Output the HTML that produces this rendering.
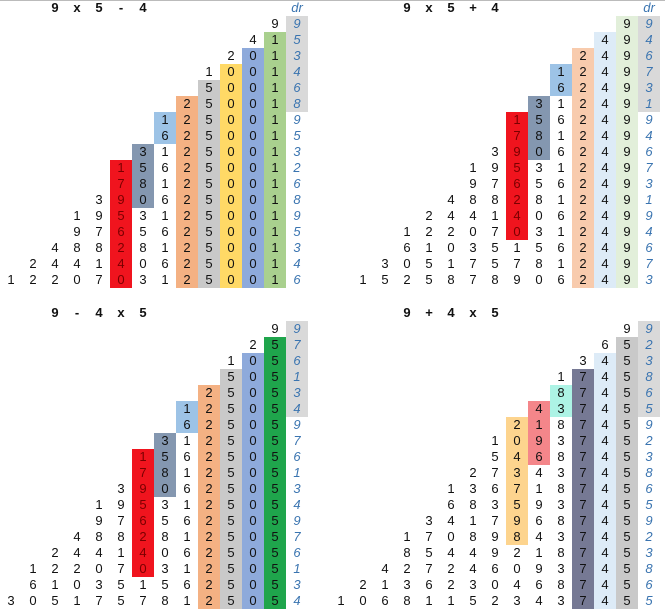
<!DOCTYPE html>
<html><head><meta charset="utf-8">
<style>
body{margin:0;background:#fff;width:665px;height:613px;overflow:hidden;position:relative;font-family:"Liberation Sans",Arial,sans-serif}
.r{position:absolute;height:16px;line-height:16px;white-space:nowrap;font-size:0}
.r span{display:inline-block;width:22px;height:16px;text-align:center;font-size:13px;color:#111;vertical-align:top}
.h span{font-weight:bold}
.d{font-style:italic;color:#3a74b0!important}
.dg{background:#d9d9d9}
.g1{background:#a9d08e}.b1{background:#8eaadb}.y{background:#ffd966}.lg{background:#c9c9c9}
.o{background:#f4b183}.lb{background:#9dc3e6}.sl{background:#8497b0}
.rd{background:#f0141e;color:#7a0000!important}
.lgr{background:#e2efda}.lbb{background:#ddebf7}.pe{background:#f8cbad}
.gg{background:#1fa54c}
.ds{background:#767994}.aq{background:#adf3e5}.pk{background:#f4868a}.ol{background:#fdd48e}
.top{position:absolute;left:0;top:0;width:665px;height:1px;background:#bbb}
</style></head><body>
<div class="top"></div>
<!-- TOP LEFT -->
<div class="r h" style="top:0;left:44px"><span>9</span><span>x</span><span>5</span><span>-</span><span>4</span></div>
<div class="r" style="top:0;left:286px"><span class="d">dr</span></div>
<div class="r" style="top:16px;left:264px"><span>9</span><span class="d dg">9</span></div>
<div class="r" style="top:32px;left:242px"><span>4</span><span class="g1">1</span><span class="d dg">5</span></div>
<div class="r" style="top:48px;left:220px"><span>2</span><span class="b1">0</span><span class="g1">1</span><span class="d dg">3</span></div>
<div class="r" style="top:64px;left:198px"><span>1</span><span class="y">0</span><span class="b1">0</span><span class="g1">1</span><span class="d dg">4</span></div>
<div class="r" style="top:80px;left:198px"><span class="lg">5</span><span class="y">0</span><span class="b1">0</span><span class="g1">1</span><span class="d dg">6</span></div>
<div class="r" style="top:96px;left:176px"><span class="o">2</span><span class="lg">5</span><span class="y">0</span><span class="b1">0</span><span class="g1">1</span><span class="d dg">8</span></div>
<div class="r" style="top:112px;left:154px"><span class="lb">1</span><span class="o">2</span><span class="lg">5</span><span class="y">0</span><span class="b1">0</span><span class="g1">1</span><span class="d">9</span></div>
<div class="r" style="top:128px;left:154px"><span class="lb">6</span><span class="o">2</span><span class="lg">5</span><span class="y">0</span><span class="b1">0</span><span class="g1">1</span><span class="d">5</span></div>
<div class="r" style="top:144px;left:132px"><span class="sl">3</span><span>1</span><span class="o">2</span><span class="lg">5</span><span class="y">0</span><span class="b1">0</span><span class="g1">1</span><span class="d">3</span></div>
<div class="r" style="top:160px;left:110px"><span class="rd">1</span><span class="sl">5</span><span>6</span><span class="o">2</span><span class="lg">5</span><span class="y">0</span><span class="b1">0</span><span class="g1">1</span><span class="d">2</span></div>
<div class="r" style="top:176px;left:110px"><span class="rd">7</span><span class="sl">8</span><span>1</span><span class="o">2</span><span class="lg">5</span><span class="y">0</span><span class="b1">0</span><span class="g1">1</span><span class="d">6</span></div>
<div class="r" style="top:192px;left:88px"><span>3</span><span class="rd">9</span><span class="sl">0</span><span>6</span><span class="o">2</span><span class="lg">5</span><span class="y">0</span><span class="b1">0</span><span class="g1">1</span><span class="d">8</span></div>
<div class="r" style="top:208px;left:66px"><span>1</span><span>9</span><span class="rd">5</span><span>3</span><span>1</span><span class="o">2</span><span class="lg">5</span><span class="y">0</span><span class="b1">0</span><span class="g1">1</span><span class="d">9</span></div>
<div class="r" style="top:224px;left:66px"><span>9</span><span>7</span><span class="rd">6</span><span>5</span><span>6</span><span class="o">2</span><span class="lg">5</span><span class="y">0</span><span class="b1">0</span><span class="g1">1</span><span class="d">5</span></div>
<div class="r" style="top:240px;left:44px"><span>4</span><span>8</span><span>8</span><span class="rd">2</span><span>8</span><span>1</span><span class="o">2</span><span class="lg">5</span><span class="y">0</span><span class="b1">0</span><span class="g1">1</span><span class="d">3</span></div>
<div class="r" style="top:256px;left:22px"><span>2</span><span>4</span><span>4</span><span>1</span><span class="rd">4</span><span>0</span><span>6</span><span class="o">2</span><span class="lg">5</span><span class="y">0</span><span class="b1">0</span><span class="g1">1</span><span class="d">4</span></div>
<div class="r" style="top:272px;left:0px"><span>1</span><span>2</span><span>2</span><span>0</span><span>7</span><span class="rd">0</span><span>3</span><span>1</span><span class="o">2</span><span class="lg">5</span><span class="y">0</span><span class="b1">0</span><span class="g1">1</span><span class="d">6</span></div>

<!-- TOP RIGHT -->
<div class="r h" style="top:0;left:396px"><span>9</span><span>x</span><span>5</span><span>+</span><span>4</span></div>
<div class="r" style="top:0;left:638px"><span class="d">dr</span></div>
<div class="r" style="top:16px;left:616px"><span class="lgr">9</span><span class="d dg">9</span></div>
<div class="r" style="top:32px;left:594px"><span class="lbb">4</span><span class="lgr">9</span><span class="d dg">4</span></div>
<div class="r" style="top:48px;left:572px"><span class="pe">2</span><span class="lbb">4</span><span class="lgr">9</span><span class="d dg">6</span></div>
<div class="r" style="top:64px;left:550px"><span class="lb">1</span><span class="pe">2</span><span class="lbb">4</span><span class="lgr">9</span><span class="d dg">7</span></div>
<div class="r" style="top:80px;left:550px"><span class="lb">6</span><span class="pe">2</span><span class="lbb">4</span><span class="lgr">9</span><span class="d dg">3</span></div>
<div class="r" style="top:96px;left:528px"><span class="sl">3</span><span>1</span><span class="pe">2</span><span class="lbb">4</span><span class="lgr">9</span><span class="d dg">1</span></div>
<div class="r" style="top:112px;left:506px"><span class="rd">1</span><span class="sl">5</span><span>6</span><span class="pe">2</span><span class="lbb">4</span><span class="lgr">9</span><span class="d">9</span></div>
<div class="r" style="top:128px;left:506px"><span class="rd">7</span><span class="sl">8</span><span>1</span><span class="pe">2</span><span class="lbb">4</span><span class="lgr">9</span><span class="d">4</span></div>
<div class="r" style="top:144px;left:484px"><span>3</span><span class="rd">9</span><span class="sl">0</span><span>6</span><span class="pe">2</span><span class="lbb">4</span><span class="lgr">9</span><span class="d">6</span></div>
<div class="r" style="top:160px;left:462px"><span>1</span><span>9</span><span class="rd">5</span><span>3</span><span>1</span><span class="pe">2</span><span class="lbb">4</span><span class="lgr">9</span><span class="d">7</span></div>
<div class="r" style="top:176px;left:462px"><span>9</span><span>7</span><span class="rd">6</span><span>5</span><span>6</span><span class="pe">2</span><span class="lbb">4</span><span class="lgr">9</span><span class="d">3</span></div>
<div class="r" style="top:192px;left:440px"><span>4</span><span>8</span><span>8</span><span class="rd">2</span><span>8</span><span>1</span><span class="pe">2</span><span class="lbb">4</span><span class="lgr">9</span><span class="d">1</span></div>
<div class="r" style="top:208px;left:418px"><span>2</span><span>4</span><span>4</span><span>1</span><span class="rd">4</span><span>0</span><span>6</span><span class="pe">2</span><span class="lbb">4</span><span class="lgr">9</span><span class="d">9</span></div>
<div class="r" style="top:224px;left:396px"><span>1</span><span>2</span><span>2</span><span>0</span><span>7</span><span class="rd">0</span><span>3</span><span>1</span><span class="pe">2</span><span class="lbb">4</span><span class="lgr">9</span><span class="d">4</span></div>
<div class="r" style="top:240px;left:396px"><span>6</span><span>1</span><span>0</span><span>3</span><span>5</span><span>1</span><span>5</span><span>6</span><span class="pe">2</span><span class="lbb">4</span><span class="lgr">9</span><span class="d">6</span></div>
<div class="r" style="top:256px;left:374px"><span>3</span><span>0</span><span>5</span><span>1</span><span>7</span><span>5</span><span>7</span><span>8</span><span>1</span><span class="pe">2</span><span class="lbb">4</span><span class="lgr">9</span><span class="d">7</span></div>
<div class="r" style="top:272px;left:352px"><span>1</span><span>5</span><span>2</span><span>5</span><span>8</span><span>7</span><span>8</span><span>9</span><span>0</span><span>6</span><span class="pe">2</span><span class="lbb">4</span><span class="lgr">9</span><span class="d">3</span></div>

<!-- BOTTOM LEFT -->
<div class="r h" style="top:305px;left:44px"><span>9</span><span>-</span><span>4</span><span>x</span><span>5</span></div>
<div class="r" style="top:321px;left:264px"><span>9</span><span class="d dg">9</span></div>
<div class="r" style="top:337px;left:242px"><span>2</span><span class="gg">5</span><span class="d dg">7</span></div>
<div class="r" style="top:353px;left:220px"><span>1</span><span class="b1">0</span><span class="gg">5</span><span class="d dg">6</span></div>
<div class="r" style="top:369px;left:220px"><span class="lg">5</span><span class="b1">0</span><span class="gg">5</span><span class="d dg">1</span></div>
<div class="r" style="top:385px;left:198px"><span class="o">2</span><span class="lg">5</span><span class="b1">0</span><span class="gg">5</span><span class="d dg">3</span></div>
<div class="r" style="top:401px;left:176px"><span class="lb">1</span><span class="o">2</span><span class="lg">5</span><span class="b1">0</span><span class="gg">5</span><span class="d dg">4</span></div>
<div class="r" style="top:417px;left:176px"><span class="lb">6</span><span class="o">2</span><span class="lg">5</span><span class="b1">0</span><span class="gg">5</span><span class="d">9</span></div>
<div class="r" style="top:433px;left:154px"><span class="sl">3</span><span>1</span><span class="o">2</span><span class="lg">5</span><span class="b1">0</span><span class="gg">5</span><span class="d">7</span></div>
<div class="r" style="top:449px;left:132px"><span class="rd">1</span><span class="sl">5</span><span>6</span><span class="o">2</span><span class="lg">5</span><span class="b1">0</span><span class="gg">5</span><span class="d">6</span></div>
<div class="r" style="top:465px;left:132px"><span class="rd">7</span><span class="sl">8</span><span>1</span><span class="o">2</span><span class="lg">5</span><span class="b1">0</span><span class="gg">5</span><span class="d">1</span></div>
<div class="r" style="top:481px;left:110px"><span>3</span><span class="rd">9</span><span class="sl">0</span><span>6</span><span class="o">2</span><span class="lg">5</span><span class="b1">0</span><span class="gg">5</span><span class="d">3</span></div>
<div class="r" style="top:497px;left:88px"><span>1</span><span>9</span><span class="rd">5</span><span>3</span><span>1</span><span class="o">2</span><span class="lg">5</span><span class="b1">0</span><span class="gg">5</span><span class="d">4</span></div>
<div class="r" style="top:513px;left:88px"><span>9</span><span>7</span><span class="rd">6</span><span>5</span><span>6</span><span class="o">2</span><span class="lg">5</span><span class="b1">0</span><span class="gg">5</span><span class="d">9</span></div>
<div class="r" style="top:529px;left:66px"><span>4</span><span>8</span><span>8</span><span class="rd">2</span><span>8</span><span>1</span><span class="o">2</span><span class="lg">5</span><span class="b1">0</span><span class="gg">5</span><span class="d">7</span></div>
<div class="r" style="top:545px;left:44px"><span>2</span><span>4</span><span>4</span><span>1</span><span class="rd">4</span><span>0</span><span>6</span><span class="o">2</span><span class="lg">5</span><span class="b1">0</span><span class="gg">5</span><span class="d">6</span></div>
<div class="r" style="top:561px;left:22px"><span>1</span><span>2</span><span>2</span><span>0</span><span>7</span><span class="rd">0</span><span>3</span><span>1</span><span class="o">2</span><span class="lg">5</span><span class="b1">0</span><span class="gg">5</span><span class="d">1</span></div>
<div class="r" style="top:577px;left:22px"><span>6</span><span>1</span><span>0</span><span>3</span><span>5</span><span>1</span><span>5</span><span>6</span><span class="o">2</span><span class="lg">5</span><span class="b1">0</span><span class="gg">5</span><span class="d">3</span></div>
<div class="r" style="top:593px;left:0px"><span>3</span><span>0</span><span>5</span><span>1</span><span>7</span><span>5</span><span>7</span><span>8</span><span>1</span><span class="o">2</span><span class="lg">5</span><span class="b1">0</span><span class="gg">5</span><span class="d">4</span></div>

<!-- BOTTOM RIGHT -->
<div class="r h" style="top:305px;left:396px"><span>9</span><span>+</span><span>4</span><span>x</span><span>5</span></div>
<div class="r" style="top:321px;left:616px"><span>9</span><span class="d dg">9</span></div>
<div class="r" style="top:337px;left:594px"><span>6</span><span class="lg">5</span><span class="d dg">2</span></div>
<div class="r" style="top:353px;left:572px"><span>3</span><span class="lbb">4</span><span class="lg">5</span><span class="d dg">3</span></div>
<div class="r" style="top:369px;left:550px"><span>1</span><span class="ds">7</span><span class="lbb">4</span><span class="lg">5</span><span class="d dg">8</span></div>
<div class="r" style="top:385px;left:550px"><span class="aq">8</span><span class="ds">7</span><span class="lbb">4</span><span class="lg">5</span><span class="d dg">6</span></div>
<div class="r" style="top:401px;left:528px"><span class="pk">4</span><span class="aq">3</span><span class="ds">7</span><span class="lbb">4</span><span class="lg">5</span><span class="d dg">5</span></div>
<div class="r" style="top:417px;left:506px"><span class="ol">2</span><span class="pk">1</span><span>8</span><span class="ds">7</span><span class="lbb">4</span><span class="lg">5</span><span class="d">9</span></div>
<div class="r" style="top:433px;left:484px"><span>1</span><span class="ol">0</span><span class="pk">9</span><span>3</span><span class="ds">7</span><span class="lbb">4</span><span class="lg">5</span><span class="d">2</span></div>
<div class="r" style="top:449px;left:484px"><span>5</span><span class="ol">4</span><span class="pk">6</span><span>8</span><span class="ds">7</span><span class="lbb">4</span><span class="lg">5</span><span class="d">3</span></div>
<div class="r" style="top:465px;left:462px"><span>2</span><span>7</span><span class="ol">3</span><span>4</span><span>3</span><span class="ds">7</span><span class="lbb">4</span><span class="lg">5</span><span class="d">8</span></div>
<div class="r" style="top:481px;left:440px"><span>1</span><span>3</span><span>6</span><span class="ol">7</span><span>1</span><span>8</span><span class="ds">7</span><span class="lbb">4</span><span class="lg">5</span><span class="d">6</span></div>
<div class="r" style="top:497px;left:440px"><span>6</span><span>8</span><span>3</span><span class="ol">5</span><span>9</span><span>3</span><span class="ds">7</span><span class="lbb">4</span><span class="lg">5</span><span class="d">5</span></div>
<div class="r" style="top:513px;left:418px"><span>3</span><span>4</span><span>1</span><span>7</span><span class="ol">9</span><span>6</span><span>8</span><span class="ds">7</span><span class="lbb">4</span><span class="lg">5</span><span class="d">9</span></div>
<div class="r" style="top:529px;left:396px"><span>1</span><span>7</span><span>0</span><span>8</span><span>9</span><span class="ol">8</span><span>4</span><span>3</span><span class="ds">7</span><span class="lbb">4</span><span class="lg">5</span><span class="d">2</span></div>
<div class="r" style="top:545px;left:396px"><span>8</span><span>5</span><span>4</span><span>4</span><span>9</span><span>2</span><span>1</span><span>8</span><span class="ds">7</span><span class="lbb">4</span><span class="lg">5</span><span class="d">3</span></div>
<div class="r" style="top:561px;left:374px"><span>4</span><span>2</span><span>7</span><span>2</span><span>4</span><span>6</span><span>0</span><span>9</span><span>3</span><span class="ds">7</span><span class="lbb">4</span><span class="lg">5</span><span class="d">8</span></div>
<div class="r" style="top:577px;left:352px"><span>2</span><span>1</span><span>3</span><span>6</span><span>2</span><span>3</span><span>0</span><span>4</span><span>6</span><span>8</span><span class="ds">7</span><span class="lbb">4</span><span class="lg">5</span><span class="d">6</span></div>
<div class="r" style="top:593px;left:330px"><span>1</span><span>0</span><span>6</span><span>8</span><span>1</span><span>1</span><span>5</span><span>2</span><span>3</span><span>4</span><span>3</span><span class="ds">7</span><span class="lbb">4</span><span class="lg">5</span><span class="d">5</span></div>
</body></html>
